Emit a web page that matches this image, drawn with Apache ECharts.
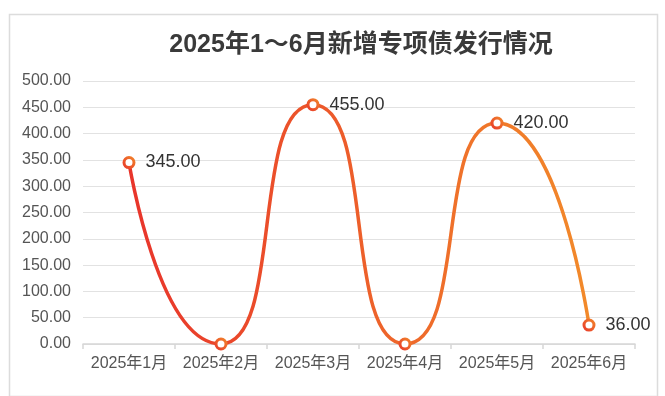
<!DOCTYPE html>
<html><head><meta charset="utf-8">
<script src="https://cdn.jsdelivr.net/npm/echarts@6/dist/echarts.min.js"></script>
<style>html,body{margin:0;padding:0;background:#fff}#c{width:665px;height:396px}</style>
</head><body><div id="c"></div>
<script>
const titleText = '2025年1～6月新增专项债发行情况';
const categories = ['2025年1月', '2025年2月', '2025年3月', '2025年4月', '2025年5月', '2025年6月'];
const values = [345, 0, 455, 0, 420, 36];
const yMin = 0, yMax = 500, yInterval = 50;

const latin = '"Liberation Sans", Arial, Helvetica, sans-serif';
const cjk = '"Liberation Sans", "Noto Sans CJK SC", sans-serif';

const chart = echarts.init(document.getElementById('c'), null, {renderer: 'canvas'});
const grad = (c1, c2) => new echarts.graphic.LinearGradient(0, 0, 1, 0, [{offset: 0, color: c1}, {offset: 1, color: c2}]);

chart.setOption({
  backgroundColor: '#ffffff',
  animation: false,
  graphic: [{
    type: 'rect', left: 7, top: 12, shape: {width: 648, height: 382},
    style: {fill: 'none', stroke: '#dcdcdc', lineWidth: 1.5}, silent: true, z: -1
  }],
  title: {
    text: titleText,
    left: 356, top: 28, textAlign: 'center',
    textStyle: {fontFamily: cjk, fontSize: 25, fontWeight: 'bold', color: '#3a3a3a'}
  },
  grid: {left: 83, right: 30, top: 81, bottom: 52, containLabel: false},
  xAxis: {
    type: 'category', data: categories, boundaryGap: true,
    axisLine: {show: true, lineStyle: {color: '#d6d6d6', width: 1.5}},
    axisTick: {show: true, alignWithLabel: false, length: 5, lineStyle: {color: '#d6d6d6', width: 1.5}},
    axisLabel: {fontFamily: cjk, fontSize: 16, color: '#555', margin: 12, interval: 0}
  },
  yAxis: {
    type: 'value', min: yMin, max: yMax, interval: yInterval,
    axisLine: {show: false}, axisTick: {show: false},
    splitLine: {lineStyle: {color: '#e2e2e2', width: 1.2}},
    axisLabel: {fontFamily: latin, fontSize: 16, color: '#555', margin: 12,
      formatter: v => v.toFixed(2)}
  },
  series: [{
    type: 'line', data: values,
    smooth: 0.68, smoothMonotone: 'x',
    lineStyle: {width: 3.5, color: grad('#e8342b', '#f28a2a')},
    symbol: 'circle', symbolSize: 10, showSymbol: true,
    itemStyle: {
      color: '#ffffff', borderWidth: 3,
      borderColor: new echarts.graphic.LinearGradient(0, 1, 1, 0, [{offset: 0, color: '#e8342b'}, {offset: 1, color: '#f28a2a'}])
    },
    label: {
      show: true, position: 'right', distance: 10,
      fontFamily: latin, fontSize: 18, color: '#333',
      formatter: p => (p.value === 0 ? '' : p.value.toFixed(2))
    },
    z: 3
  }]
});
</script></body></html>
